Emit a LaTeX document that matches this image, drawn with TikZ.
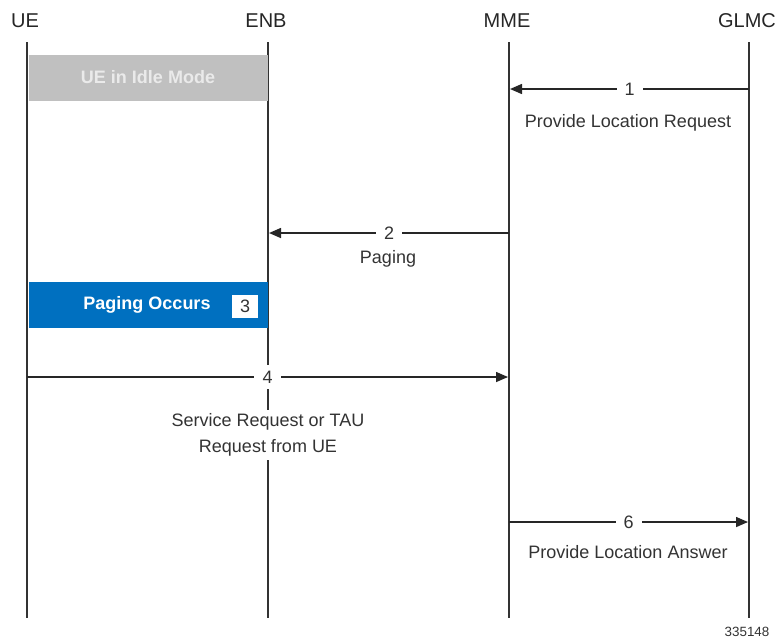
\documentclass[tikz,border=0pt]{standalone}
\usepackage{fontspec}
\setmainfont{Liberation Sans}
\usetikzlibrary{arrows.meta,positioning}

\definecolor{idlegray}{HTML}{C0C0C0}
\definecolor{idletext}{HTML}{EAEAEA}
\definecolor{pageblue}{HTML}{0070C0}
\definecolor{msgtext}{HTML}{333333}

\tikzset{
  entity/.style = {font=\fontsize{10}{12}\selectfont, text=black!85},
  lifeline/.style = {line width=0.75pt, draw=black!80},
  msg/.style = {line width=0.75pt, draw=black!85, -{Triangle[length=6pt,width=5pt]}},
  num/.style = {fill=white, inner xsep=4pt, inner ysep=3pt, font=\fontsize{9}{11}\selectfont, text=msgtext},
  caption/.style = {fill=white, inner sep=2pt, align=center, font=\fontsize{9}{13}\selectfont, text=msgtext},
  statebox/.style = {anchor=north west, minimum width=119.5pt, minimum height=23pt, inner sep=0pt},
  statetext/.style = {font=\bfseries\fontsize{9}{11}\selectfont}
}

\begin{document}
\begin{tikzpicture}[x=0.5pt, y=-0.5pt]
  \useasboundingbox (0,0) rectangle (780,639);

  % entities and lifelines
  \foreach \name/\lbl/\x in {ue/UE/27, enb/ENB/268, mme/MME/509, glmc/GLMC/749} {
    \node[entity] (\name) at (\x-2,21) {\lbl};
    \coordinate (\name-top) at (\x,42);
    \coordinate (\name-bot) at (\x,618);
    \draw[lifeline] (\name-top) -- (\name-bot);
  }

  % UE in idle mode
  \node[statebox, fill=idlegray] (idle) at (29,55) {};
  \node[statetext, text=idletext] (idle-txt) at (148,77) {UE in Idle Mode};

  % 1
  \coordinate (m1-from) at (749,89);
  \coordinate (m1-to) at (510,89);
  \draw[msg] (m1-from) -- node[num] (n1) {1} (m1-to);
  \node[caption] (c1) at (628,122.5) {Provide Location Request};

  % 2
  \coordinate (m2-from) at (509,233);
  \coordinate (m2-to) at (269,233);
  \draw[msg] (m2-from) -- node[num] (n2) {2} (m2-to);
  \node[caption] (c2) at (388,259) {Paging};

  % 3 paging occurs
  \node[statebox, fill=pageblue] (paging) at (29,282) {};
  \node[statetext, text=white] (paging-txt) at (147,305) {Paging Occurs};
  \node[fill=white, minimum width=13pt, minimum height=11.5pt, inner sep=0pt,
        font=\fontsize{9}{11}\selectfont, text=msgtext] (n3) at (245,306.5) {3};

  % 4
  \coordinate (m4-from) at (27,377);
  \coordinate (m4-to) at (508,377);
  \draw[msg] (m4-from) -- node[num] (n4) {4} (m4-to);
  \node[caption] (c4) at (268,435) {Service Request or TAU\\Request from UE};

  % 6
  \coordinate (m6-from) at (509,522);
  \coordinate (m6-to) at (748,522);
  \draw[msg] (m6-from) -- node[num] (n6) {6} (m6-to);
  \node[caption] (c6) at (628,552) {Provide Location Answer};

  \node[font=\fontsize{6.7}{8}\selectfont, text=msgtext] (figid) at (747,632) {335148};
\end{tikzpicture}
\end{document}
